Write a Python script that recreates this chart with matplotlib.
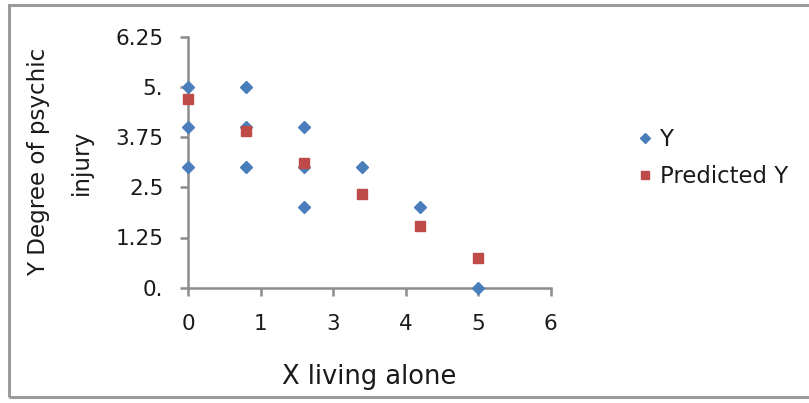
import matplotlib
matplotlib.use("Agg")
import matplotlib.pyplot as plt
from matplotlib.patches import Rectangle

# Data
x_obs = [0, 0, 0, 1, 1, 1, 2, 2, 2, 3, 4, 5]
y_obs = [5, 4, 3, 5, 4, 3, 4, 3, 2, 3, 2, 0]
x_pred = [0, 1, 2, 3, 4, 5]
y_pred = [4.69, 3.89, 3.11, 2.33, 1.53, 0.73]
x_ticks = [0, 1.25, 2.5, 3.75, 5, 6.25]
x_tick_labels = ["0", "1", "3", "4", "5", "6"]
y_ticks = [0, 1.25, 2.5, 3.75, 5, 6.25]
y_tick_labels = ["0.", "1.25", "2.5", "3.75", "5.", "6.25"]

plt.rcParams['font.family'] = ['DejaVu Sans']

W, H = 809, 403
fig = plt.figure(figsize=(W / 100, H / 100), dpi=100)
fig.patch.set_facecolor('white')

# outer border
fig.add_artist(Rectangle((9 / W, 1 - 397 / H), (W + 5 - 9) / W, (397 - 5) / H,
                         transform=fig.transFigure, fill=False,
                         edgecolor='#9a9a9a', linewidth=2.2, clip_on=False))

left, right, top, bottom = 188.3, 550.5, 36.7, 287.7
ax = fig.add_axes([left / W, 1 - bottom / H, (right - left) / W, (bottom - top) / H])

blue = '#4a7ebb'
red = '#be4b48'
ax.plot(x_obs, y_obs, linestyle='none', marker='D', markersize=6.3,
        color=blue, label='Y', clip_on=False, zorder=3)
ax.plot(x_pred, y_pred, linestyle='none', marker='s', markersize=7,
        color=red, label='Predicted Y', clip_on=False, zorder=3)

ax.set_xlim(0, 6.25)
ax.set_ylim(0, 6.25)
ax.set_xticks(x_ticks)
ax.set_xticklabels(x_tick_labels)
ax.set_yticks(y_ticks)
ax.set_yticklabels(y_tick_labels)

grey = '#8c8c8c'
for s in ['top', 'right']:
    ax.spines[s].set_visible(False)
for s in ['left', 'bottom']:
    ax.spines[s].set_color(grey)
    ax.spines[s].set_linewidth(1.8)
ax.tick_params(axis='both', direction='out', length=6, width=1.8, color=grey,
               labelsize=15.5, labelcolor='#1a1a1a')
ax.tick_params(axis='x', pad=13)
ax.tick_params(axis='y', pad=12)

txt = '#1a1a1a'
fig.text((369.5) / W, 1 - 377 / H, 'X living alone', fontsize=18.5, color=txt,
         ha='center', va='center')
fig.text(60 / W, 1 - 162 / H, 'Y Degree of psychic\ninjury', fontsize=16.6,
         color=txt, rotation=90, ha='center', va='center',
         multialignment='center', linespacing=2.15)

fs_leg = 16.4
leg = fig.legend(handles=ax.get_lines(), labels=['Y', 'Predicted Y'],
                 loc='center left', bbox_to_anchor=(638 / W, 1 - 158 / H),
                 frameon=False, fontsize=fs_leg, handlelength=0.6,
                 borderpad=0, borderaxespad=0,
                 handletextpad=0.36, labelspacing=0.6, markerscale=0.8)
for t in leg.get_texts():
    t.set_color(txt)

fig.savefig('out.png', dpi=100, facecolor='white')
